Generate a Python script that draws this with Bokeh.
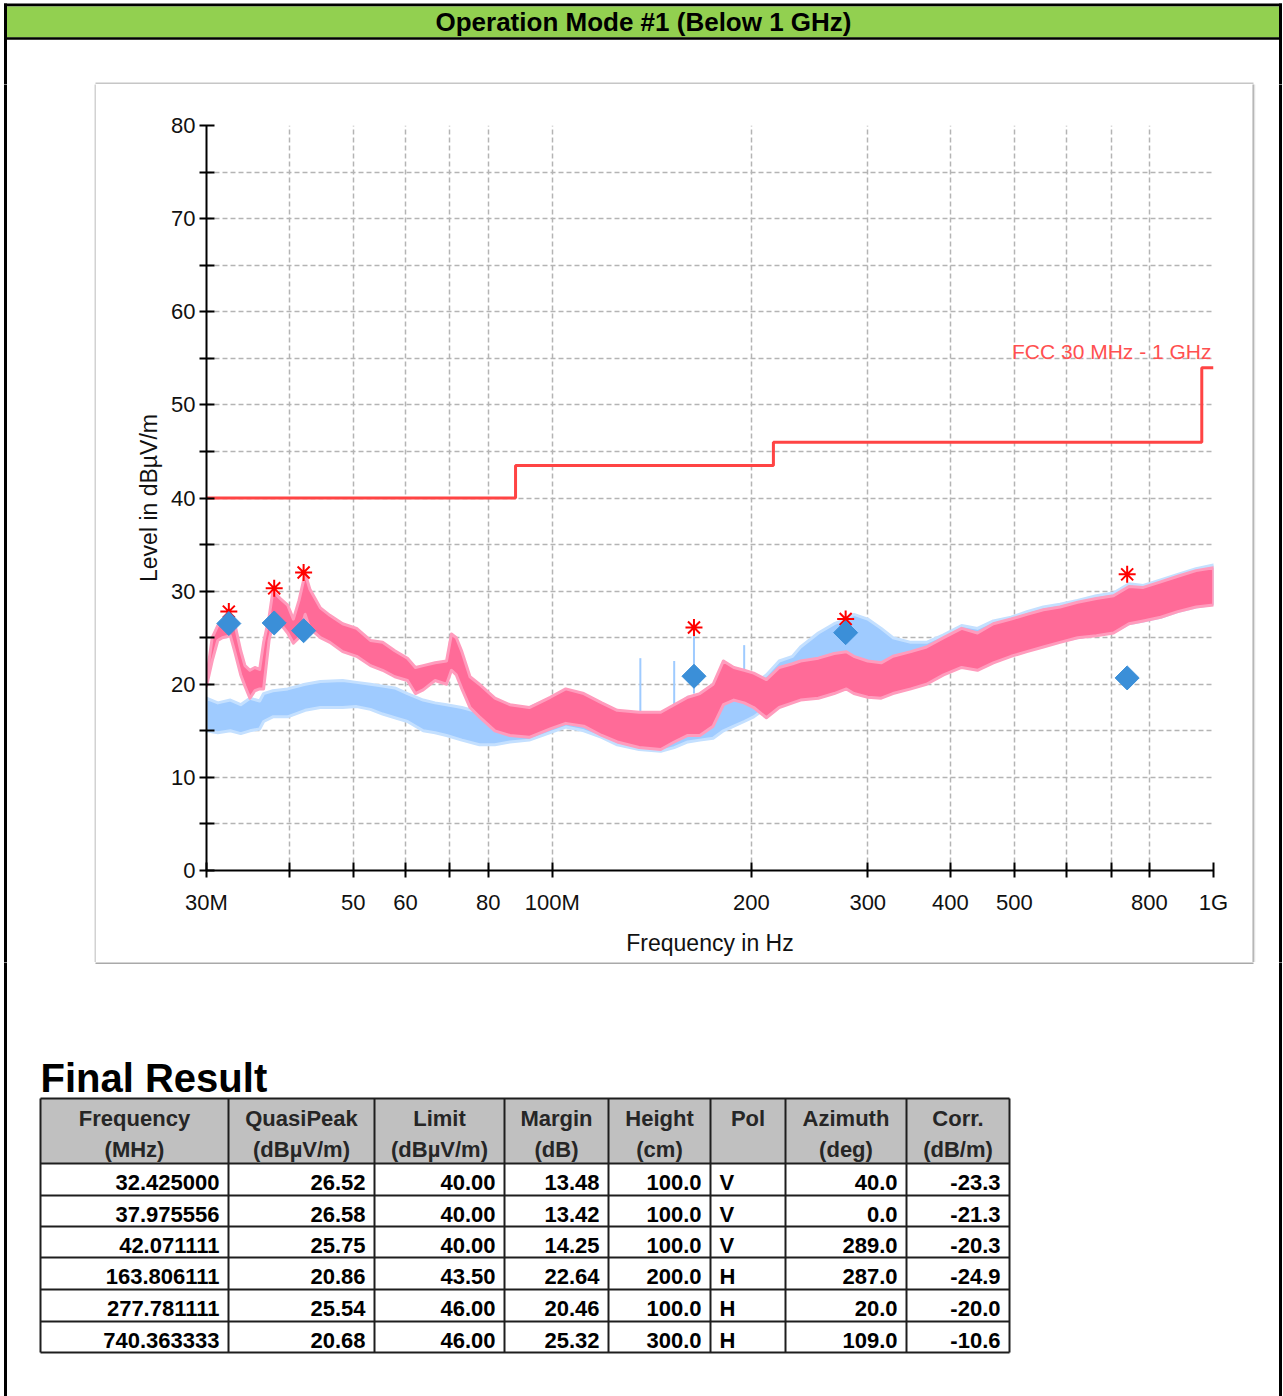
import math

from bokeh.plotting import figure
from bokeh.layouts import column, row
from bokeh.models import Range1d, FixedTicker, Label
from bokeh.core.properties import value
from bokeh.embed import file_html
from bokeh.resources import INLINE

# ---------------------------------------------------------------------------
# Pre-scan, vertical polarisation: frequency (MHz) with lower / upper envelope
# of the swept trace (dBµV/m)
# ---------------------------------------------------------------------------
v_freq = [30.0, 30.6, 31.2, 31.7, 32.6, 33.1, 33.8, 34.3, 34.9, 35.5, 36.1, 36.6,
          37.3, 37.8, 38.8, 39.8, 40.6, 41.4, 42.3, 43.0, 44.6, 46.1, 48.2, 50.6,
          53.1, 55.4, 57.8, 60.4, 62.1, 63.8, 66.5, 69.2, 70.4, 71.6, 73.0, 75.1,
          77.6, 81.9, 86.3, 92.3, 99.3, 104.8, 111.6, 118.8, 125.4, 135.3, 145.9,
          152.9, 160.3, 167.2, 175.1, 181.5, 188.2, 195.1, 201.7, 210.8, 220.4,
          230.9, 237.4, 252.6, 266.9, 278.5, 285.8, 300.0, 314.4, 327.5, 348.6,
          368.1, 390.7, 416.0, 439.6, 464.6, 494.3, 522.2, 553.0, 585.9, 623.0,
          665.0, 706.0, 745.0, 783.0, 832.0, 883.0, 941.0, 1000.0]
v_low = [19.8, 22.5, 24.7, 25.0, 25.2, 23.5, 21.0, 19.8, 18.5, 19.3, 19.5, 19.5,
         24.7, 26.5, 26.5, 25.5, 24.4, 25.0, 27.5, 26.0, 25.0, 24.5, 23.5, 23.0,
         22.0, 21.5, 20.8, 20.4, 19.0, 19.4, 20.4, 20.0, 21.5, 21.0, 19.5, 17.5,
         16.5, 15.0, 14.5, 14.3, 15.2, 15.8, 15.5, 14.5, 13.8, 13.2, 13.0,
         13.8, 14.5, 14.5, 15.5, 17.8, 18.3, 18.0, 17.5, 16.4, 17.5,
         18.0, 18.3, 18.5, 19.0, 19.5, 19.0, 18.6, 18.5, 19.0, 19.5,
         20.0, 21.0, 21.8, 21.5, 22.3, 23.0, 23.5, 24.0, 24.5, 25.0,
         25.2, 25.5, 26.5, 26.8, 27.2, 27.8, 28.3, 28.5]
v_high = [20.6, 25.0, 26.3, 26.6, 27.5, 26.5, 23.6, 22.0, 21.5, 21.8, 21.6, 24.5,
          27.2, 30.0, 29.2, 28.5, 27.0, 29.0, 31.9, 30.2, 28.2, 27.4, 26.5, 26.0,
          24.7, 24.5, 23.6, 22.8, 21.8, 22.0, 22.3, 22.5, 25.4, 25.0, 23.5, 20.8,
          20.0, 18.5, 17.8, 17.5, 18.6, 19.5, 19.0, 18.0, 17.2, 17.0, 17.0,
          17.8, 18.6, 19.0, 20.0, 22.5, 21.8, 21.5, 21.2, 20.5, 21.8,
          22.2, 22.5, 22.8, 23.3, 23.5, 23.0, 22.5, 22.3, 23.0, 23.5,
          24.0, 25.0, 26.0, 25.5, 26.5, 27.0, 27.5, 28.0, 28.3, 28.8,
          29.2, 29.5, 30.5, 30.4, 31.0, 31.6, 32.2, 32.5]

# Pre-scan, horizontal polarisation
h_freq = [30.0, 31.2, 32.6, 33.8, 34.9, 36.1, 36.6, 37.8, 39.8, 42.3, 44.6, 48.2,
          50.6, 53.1, 55.4, 57.8, 60.4, 63.8, 66.5, 69.2, 73.0, 77.6, 81.9, 86.3,
          92.3, 99.3, 104.8, 111.6, 118.8, 125.4, 135.3, 145.9, 152.9, 160.3,
          167.2, 175.1, 181.5, 188.2, 195.1, 201.7, 210.8, 220.4, 230.9, 237.4,
          252.6, 266.9, 278.5, 285.8, 300.0, 314.4, 327.5, 348.6, 368.1, 390.7,
          416.0, 439.6, 464.6, 494.3, 522.2, 553.0, 585.9, 623.0, 665.0, 706.0,
          745.0, 783.0, 832.0, 883.0, 941.0, 1000.0]
h_low = [15.0, 14.8, 15.0, 14.7, 15.0, 15.2, 16.0, 16.5, 16.5, 17.2, 17.5, 17.5,
         17.6, 17.3, 16.8, 16.4, 16.0, 15.0, 14.8, 14.5, 14.0, 13.5, 13.5, 13.8,
         14.0, 14.8, 15.4, 15.0, 14.3, 13.5, 13.0, 12.8, 13.2, 13.8,
         14.0, 14.2, 15.0, 15.5, 16.0, 16.5, 17.5, 18.3, 19.0, 20.0,
         21.0, 21.5, 22.0, 21.8, 21.5, 21.0, 21.0, 20.5, 20.5, 21.2,
         22.0, 21.8, 22.5, 23.2, 23.6, 24.2, 24.6, 25.0, 25.3, 25.6,
         26.5, 26.8, 27.2, 27.8, 28.3, 28.6]
h_high = [18.5, 18.0, 18.3, 17.8, 18.5, 18.2, 19.0, 19.3, 19.5, 20.0, 20.3, 20.4,
          20.2, 20.0, 19.8, 19.6, 19.0, 18.3, 18.0, 17.8, 17.5, 17.0, 16.8, 17.0,
          17.5, 18.5, 19.0, 18.8, 17.8, 17.0, 16.8, 16.5, 17.5, 18.6,
          18.8, 19.0, 20.0, 19.5, 19.5, 20.0, 21.0, 22.5, 23.0, 24.0,
          25.5, 26.5, 27.0, 27.5, 27.0, 26.0, 25.0, 24.5, 24.5, 25.3,
          26.3, 26.0, 26.8, 27.2, 27.8, 28.3, 28.6, 29.0, 29.5, 29.8,
          30.8, 30.6, 31.2, 31.8, 32.4, 32.8]

# isolated narrow-band spikes on the horizontal sweep
h_spike_freq = [135.9, 152.9, 163.8, 195.1]
h_spike_base = [16.8, 17.5, 19.0, 19.5]
h_spike_top = [22.8, 22.5, 26.1, 24.2]

# FCC Part 15 radiated limit, 3 m (step edges)
limit_freq = [30.0, 88.0, 216.0, 960.0, 1000.0]
limit_level = [40.0, 43.5, 46.0, 54.0, 54.0]

# Final measurements
qp_freq = [32.425000, 37.975556, 42.071111, 163.806111, 277.781111, 740.363333]
peak_level = [27.8, 30.3, 32.0, 26.1, 27.0, 31.8]
qp_level = [26.52, 26.58, 25.75, 20.86, 25.54, 20.68]
qp_limit = [40.00, 40.00, 40.00, 43.50, 46.00, 46.00]
qp_margin = [13.48, 13.42, 14.25, 22.64, 20.46, 25.32]
ant_height = [100.0, 100.0, 100.0, 200.0, 100.0, 300.0]
ant_pol = ["V", "V", "V", "H", "H", "H"]
azimuth = [40.0, 0.0, 289.0, 287.0, 20.0, 109.0]
corr = [-23.3, -21.3, -20.3, -24.9, -20.0, -10.6]

# Axis ticks
x_ticks = [30, 40, 50, 60, 70, 80, 100, 200, 300, 400, 500, 600, 700, 800, 1000]
x_tick_labels = ["30M", "", "50", "60", "", "80", "100M", "200", "300", "400",
                 "500", "", "", "800", "1G"]
y_ticks = [0, 5, 10, 15, 20, 25, 30, 35, 40, 45, 50, 55, 60, 65, 70, 75, 80]
y_tick_labels = ["0", "", "10", "", "20", "", "30", "", "40", "", "50", "", "60",
                 "", "70", "", "80"]

table_header = [("Frequency", "(MHz)"), ("QuasiPeak", "(dBµV/m)"),
                ("Limit", "(dBµV/m)"), ("Margin", "(dB)"), ("Height", "(cm)"),
                ("Pol", ""), ("Azimuth", "(deg)"), ("Corr.", "(dB/m)")]

FONT = "Liberation Sans"
PINK = "#ff6b98"
PINK_EDGE = "#ff9cbd"
LIGHT_BLUE = "#9fcbff"
LIGHT_BLUE_EDGE = "#c4e0ff"
MARKER_BLUE = "#3b8fd8"
PANEL_EDGE = "#c6c6c6"
PANEL_SHADOW = "#a9a9a9"

PAGE_W, PAGE_H = 1283, 1396
PANEL_L, PANEL_R, PANEL_T, PANEL_B = 96, 1252, 84, 962
FRAME_L, FRAME_R, FRAME_T, FRAME_B = 206, 1213, 125, 870
BORDER_L, BORDER_R = 5, 1280


def sheet(x0, x1, y0, y1):
    """A blank drawing area whose data units are page pixels (y downward)."""
    f = figure(width=x1 - x0, height=y1 - y0, title=None,
               x_range=Range1d(x0, x1), y_range=Range1d(y1, y0),
               x_axis_location=None, y_axis_location=None,
               output_backend="svg", toolbar_location=None, min_border=0,
               frame_align=False)
    f.outline_line_color = None
    f.background_fill_color = "white"
    f.border_fill_color = "white"
    f.xgrid.visible = False
    f.ygrid.visible = False
    return f


def put_text(f, xs, ys, texts, size="22px", style="bold", align="left",
             baseline="middle", color="black"):
    f.text(x=xs, y=ys, text=texts, text_font=value(FONT),
           text_font_size=value(size), text_font_style=value(style),
           text_align=value(align), text_baseline=value(baseline),
           text_color=value(color))


def page_border(f, y0, y1):
    """Black outer page rule on both sides, run past the sheet edges."""
    f.segment(x0=[BORDER_L, BORDER_R], y0=[y0 - 3, y0 - 3],
              x1=[BORDER_L, BORDER_R], y1=[y1 + 3, y1 + 3],
              line_color="black", line_width=3)


# ---- title bar ----------------------------------------------------------
top = sheet(0, PAGE_W, 0, PANEL_T)
top.segment(x0=[BORDER_L - 1.5], y0=[4.5], x1=[BORDER_R + 1.5], y1=[4.5],
            line_color="black", line_width=3)
page_border(top, 6, PANEL_T)
top.quad(left=[BORDER_L + 1.5], right=[BORDER_R - 1.5], top=[6], bottom=[37],
         fill_color="#92d050", line_color=None)
top.segment(x0=[BORDER_L], y0=[38], x1=[BORDER_R], y1=[38],
            line_color="black", line_width=2.5)
put_text(top, [643], [21.5], ["Operation Mode #1 (Below 1 GHz)"], size="26px",
         align="center")
top.segment(x0=[PANEL_L - 1], y0=[PANEL_T - 1], x1=[PANEL_R + 1], y1=[PANEL_T - 1],
            line_color=PANEL_EDGE, line_width=2)

# ---- side strips beside the chart panel --------------------------------
left = sheet(0, PANEL_L, PANEL_T, PANEL_B)
page_border(left, PANEL_T, PANEL_B)
left.segment(x0=[PANEL_L - 1], y0=[PANEL_T - 2], x1=[PANEL_L - 1], y1=[PANEL_B + 2],
             line_color="#d2d2d2", line_width=2)

right = sheet(PANEL_R, PAGE_W, PANEL_T, PANEL_B)
right.segment(x0=[PANEL_R + 0.5], y0=[PANEL_T - 2], x1=[PANEL_R + 0.5],
              y1=[PANEL_B + 2], line_color=PANEL_SHADOW, line_width=2)
right.segment(x0=[PANEL_R + 2], y0=[PANEL_T - 2], x1=[PANEL_R + 2],
              y1=[PANEL_B + 2], line_color="#e2e2e2", line_width=1.5)
page_border(right, PANEL_T, PANEL_B)

# ---- the emission chart ---------------------------------------------------
p = figure(width=PANEL_R - PANEL_L, height=PANEL_B - PANEL_T, x_axis_type="log",
           x_range=Range1d(30, 1000), y_range=Range1d(0, 80), title=None,
           output_backend="svg", toolbar_location=None, frame_align=False,
           min_border_left=FRAME_L - PANEL_L, min_border_right=PANEL_R - FRAME_R,
           min_border_top=FRAME_T - PANEL_T, min_border_bottom=PANEL_B - FRAME_B)
p.outline_line_color = None
p.background_fill_color = "white"
p.border_fill_color = "white"

xt = FixedTicker(ticks=x_ticks)
yt = FixedTicker(ticks=y_ticks)
p.xaxis.ticker = xt
p.yaxis.ticker = yt
p.xgrid.ticker = xt
p.ygrid.ticker = yt
p.xaxis.major_label_overrides = dict(zip(x_ticks, x_tick_labels))
p.yaxis.major_label_overrides = dict(zip(y_ticks, y_tick_labels))

for ax in (p.xaxis[0], p.yaxis[0]):
    ax.axis_line_color = "black"
    ax.axis_line_width = 2
    ax.major_tick_line_color = "black"
    ax.major_tick_line_width = 2
    ax.major_tick_in = 8
    ax.major_tick_out = 7
    ax.minor_tick_line_color = None
    ax.major_label_text_font = FONT
    ax.major_label_text_font_size = "22px"
    ax.major_label_text_color = "#111111"
    ax.axis_label_text_font = FONT
    ax.axis_label_text_font_style = "normal"
    ax.axis_label_text_color = "#111111"

p.xaxis.axis_label = "Frequency in Hz"
p.xaxis.axis_label_text_font_size = "23px"
p.xaxis.major_label_standoff = 12
p.xaxis.axis_label_standoff = 12
p.yaxis.axis_label = "Level in dBµV/m"
p.yaxis.axis_label_text_font_size = "23px"
p.yaxis.major_label_standoff = 4
p.yaxis.axis_label_standoff = 6

for g in (p.xgrid[0], p.ygrid[0]):
    g.grid_line_color = "#b4b4b4"
    g.grid_line_width = 1.5
    g.grid_line_dash = "5 3"

# swept traces drawn as envelope bands with a soft rim
p.patch(x=h_freq + h_freq[::-1], y=h_high + h_low[::-1], fill_color=LIGHT_BLUE,
        line_color=LIGHT_BLUE_EDGE, line_width=3, line_join="round")
p.segment(x0=h_spike_freq, y0=h_spike_base, x1=h_spike_freq, y1=h_spike_top,
          line_color=LIGHT_BLUE, line_width=2)
p.patch(x=v_freq + v_freq[::-1], y=v_high + v_low[::-1], fill_color=PINK,
        line_color=PINK_EDGE, line_width=3, line_join="round")

p.step(x=limit_freq, y=limit_level, mode="after", line_color="#ff4444",
       line_width=3)

p.scatter(x=qp_freq, y=peak_level, marker="asterisk", size=17,
          line_color="#ff0000", line_width=2)
p.scatter(x=qp_freq, y=qp_level, marker="square", angle=math.pi / 4, size=17,
          fill_color=MARKER_BLUE, line_color=MARKER_BLUE)

# limit name sits just above the 54 dB step
p.add_layout(Label(x=1000, y=limit_level[-1] + 1.75, x_offset=-2,
                   text="FCC 30 MHz - 1 GHz",
                   text_align="right", text_baseline="middle",
                   text_font=FONT, text_font_size="21px", text_color="#ff5050"))

# ---- result table ---------------------------------------------------------
bottom = sheet(0, PAGE_W, PANEL_B, PAGE_H)
bottom.segment(x0=[PANEL_L - 1], y0=[PANEL_B + 0.5], x1=[PANEL_R + 1],
               y1=[PANEL_B + 0.5], line_color=PANEL_SHADOW, line_width=2)
page_border(bottom, PANEL_B, PAGE_H)

col_x = [40, 228, 374, 504, 608, 710, 785, 906, 1009]
row_y = [1098, 1163, 1195, 1226, 1257, 1289, 1321, 1352]

bottom.quad(left=[col_x[0]], right=[col_x[-1]], top=[row_y[0]], bottom=[row_y[1]],
            fill_color="#c0c0c0", line_color=None)
bottom.segment(x0=col_x, y0=[row_y[0]] * len(col_x), x1=col_x,
               y1=[row_y[-1]] * len(col_x), line_color="#1e1e1e", line_width=2)
bottom.segment(x0=[col_x[0]] * len(row_y), y0=row_y, x1=[col_x[-1]] * len(row_y),
               y1=row_y, line_color="#1e1e1e", line_width=2)

put_text(bottom, [40], [1077], ["Final  Result"], size="40px")

head_x = [(col_x[c] + col_x[c + 1]) / 2 for c in range(len(table_header))]
put_text(bottom, head_x, [1118] * len(head_x), [h[0] for h in table_header],
         align="center", color="#262626")
put_text(bottom, head_x, [1149] * len(head_x), [h[1] for h in table_header],
         align="center", color="#262626")

columns = [
    ["%.6f" % v for v in qp_freq],
    ["%.2f" % v for v in qp_level],
    ["%.2f" % v for v in qp_limit],
    ["%.2f" % v for v in qp_margin],
    ["%.1f" % v for v in ant_height],
    ant_pol,
    ["%.1f" % v for v in azimuth],
    ["%.1f" % v for v in corr],
]
cell_y = [(row_y[r + 1] + row_y[r + 2]) / 2 + 3 for r in range(len(qp_freq))]
for c, cells in enumerate(columns):
    if c == 5:
        put_text(bottom, [col_x[c] + 9] * len(cells), cell_y, cells, align="left")
    else:
        put_text(bottom, [col_x[c + 1] - 9] * len(cells), cell_y, cells,
                 align="right")

page = column(top, row(left, p, right), bottom)

open("out.html", "w").write(file_html(page, INLINE))
